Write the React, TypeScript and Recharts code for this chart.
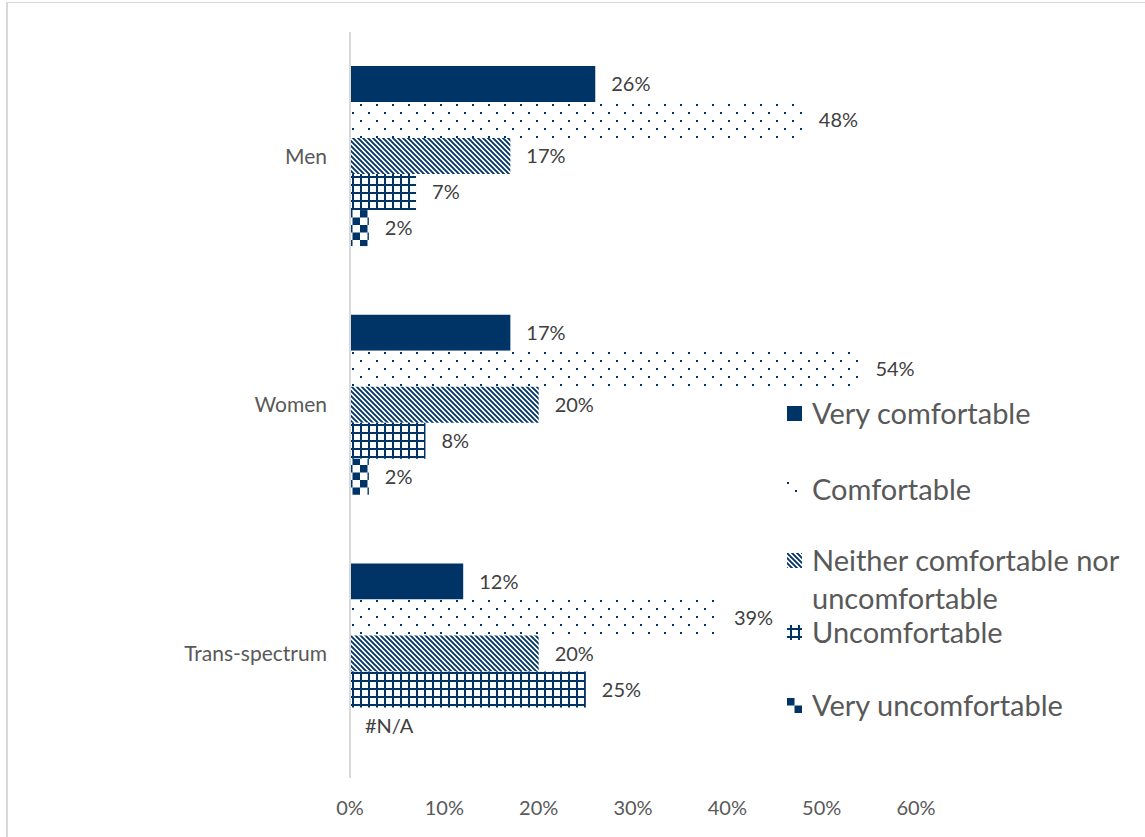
import React from "react";
import { BarChart, Bar, XAxis, YAxis, LabelList } from "recharts";

const CATEGORIES = ["Men", "Women", "Trans-spectrum"];
const SERIES_NAMES = [
  "Very comfortable",
  "Comfortable",
  "Neither comfortable nor uncomfortable",
  "Uncomfortable",
  "Very uncomfortable",
];
const VERY_COMFORTABLE = [26, 17, 12];
const COMFORTABLE = [48, 54, 39];
const NEITHER = [17, 20, 20];
const UNCOMFORTABLE = [7, 8, 25];
const VERY_UNCOMFORTABLE: (number | null)[] = [2, 2, null];
const X_TICKS = [0, 10, 20, 30, 40, 50, 60];

const NAVY = "#003366";
const FONT = "Lato, 'Noto Sans', sans-serif";
const FILLS = [NAVY, "url(#pDots)", "url(#pDiag)", "url(#pGrid)", "url(#pCheck)"];
const KEYS = ["vc", "c", "n", "u", "vu"];

const data = CATEGORIES.map((name, i) => ({
  name,
  vc: VERY_COMFORTABLE[i],
  c: COMFORTABLE[i],
  n: NEITHER[i],
  u: UNCOMFORTABLE[i],
  vu: VERY_UNCOMFORTABLE[i],
}));

const Patterns = () => (
  <svg width={0} height={0} style={{ position: "absolute" }}>
    <defs>
      <pattern id="pDots" width={16} height={16} patternUnits="userSpaceOnUse">
        <rect width={16} height={16} fill="#fff" />
        <rect x={0} y={0} width={2} height={2} fill={NAVY} />
        <rect x={8} y={8} width={2} height={2} fill={NAVY} />
      </pattern>
      <pattern id="pDiag" width={5} height={5} patternUnits="userSpaceOnUse">
        <rect width={5} height={5} fill="#fff" />
        <path d="M-1,-1 L6,6 M-1,4 L1,6 M4,-1 L6,1" stroke={NAVY} strokeWidth={1.9} />
      </pattern>
      <pattern id="pGrid" width={8} height={8} patternUnits="userSpaceOnUse">
        <rect width={8} height={8} fill="#fff" />
        <rect x={0} y={0} width={2} height={8} fill={NAVY} />
        <rect x={0} y={0} width={8} height={2} fill={NAVY} />
      </pattern>
      <pattern id="pCheck" width={15} height={15} patternUnits="userSpaceOnUse">
        <rect width={15} height={15} fill="#fff" />
        <rect x={0} y={0} width={7.5} height={7.5} fill={NAVY} />
        <rect x={7.5} y={7.5} width={7.5} height={7.5} fill={NAVY} />
      </pattern>
    </defs>
  </svg>
);

const labelText = (x: number, y: number, text: string) => (
  <text x={x} y={y} dy="0.36em" fill="#404040" fontSize={20} fontFamily={FONT}>
    {text}
  </text>
);

const renderLabel = (props: any) => {
  const { x, y, width, height, value } = props;
  if (typeof value !== "number") return null;
  return labelText(Number(x) + (Number(width) || 0) + 16, Number(y) + Number(height) / 2, `${value}%`);
};

// Excel shows "#N/A" in the slot of a missing "Very uncomfortable" bar (the slot right under "Uncomfortable")
const renderMissingLabel = (props: any) => {
  const { x, y, height, index } = props;
  if (VERY_UNCOMFORTABLE[index] != null) return null;
  return labelText(Number(x) + 15, Number(y) + Number(height) * 1.5, "#N/A");
};

const legendTops = [413, 489, 560, 632, 705];
const swatchViewBoxes = ["0 0 15 15", "0 0 15 15", "0 0 15 15", "-3 -3 15 15", "0 0 15 15"];

const LegendBox = () => (
  <div style={{ position: "absolute", left: 0, top: 0, fontFamily: FONT, color: "#595959" }}>
    {SERIES_NAMES.map((name, i) => {
      const twoLines = name.length > 30;
      return (
        <div
          key={name}
          style={{
            position: "absolute",
            left: 787,
            top: legendTops[i] - 19,
            width: 340,
            fontSize: 29,
            lineHeight: "38px",
            display: "flex",
            alignItems: "flex-start",
          }}
        >
          <svg width={15} height={15} viewBox={swatchViewBoxes[i]} style={{ marginTop: 12, marginRight: 10, flex: "none" }}>
            <rect x={-5} y={-5} width={25} height={25} fill={FILLS[i]} />
          </svg>
          <span style={{ whiteSpace: twoLines ? "normal" : "nowrap" }}>{name}</span>
        </div>
      );
    })}
  </div>
);

export default function App() {
  return (
    <div style={{ position: "absolute", left: 0, top: 0, width: 1145, height: 837, background: "#fff", overflow: "hidden" }}>
      <Patterns />
      <div
        style={{
          position: "absolute",
          left: 6,
          top: 2,
          width: 1160,
          height: 860,
          borderLeft: "2px solid #d9d9d9",
          borderTop: "1px solid #d9d9d9",
        }}
      />
      <div style={{ position: "absolute", left: 0, top: 0 }}>
        <BarChart
          width={1145}
          height={837}
          data={data}
          layout="vertical"
          margin={{ top: 32, right: 229, bottom: 0, left: 0 }}
          barCategoryGap="13.7%"
          barGap={0}
        >
          <XAxis
            type="number"
            domain={[0, 60]}
            ticks={X_TICKS}
            tickFormatter={(v) => `${v}%`}
            axisLine={false}
            tickLine={false}
            tickSize={0}
            tickMargin={23}
            height={59}
            tick={{ fill: "#595959", fontSize: 20, fontFamily: FONT }}
          />
          <YAxis
            type="category"
            dataKey="name"
            width={350}
            axisLine={{ stroke: "#d9d9d9", strokeWidth: 2 }}
            tickLine={false}
            tickSize={0}
            tickMargin={23}
            tick={{ fill: "#595959", fontSize: 21, fontFamily: FONT }}
          />
          {KEYS.map((k, i) => (
            <Bar key={k} dataKey={k} name={SERIES_NAMES[i]} fill={FILLS[i]} isAnimationActive={false}>
              <LabelList dataKey={k} content={renderLabel} />
              {k === "u" && <LabelList dataKey={k} content={renderMissingLabel} />}
            </Bar>
          ))}
        </BarChart>
      </div>
      <LegendBox />
    </div>
  );
}
